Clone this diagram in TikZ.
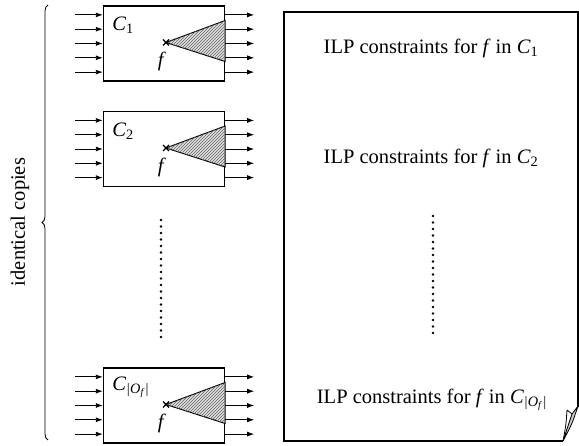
\documentclass[tikz,border=0pt]{standalone}
\usepackage{fontspec}
\setmainfont{Liberation Serif}
\usetikzlibrary{arrows.meta,patterns,decorations.pathreplacing,positioning}
\newcommand{\cc}[1]{\textit{C}\textsubscript{#1}}
\begin{document}
\begin{tikzpicture}[x=1pt,y=-1pt,
    every node/.style={font=\fontsize{20.5}{23}\selectfont},
    copybox/.style={draw,line width=1.4pt,minimum width=121pt,minimum height=75pt,inner sep=0pt},
    wire/.style={-{Latex[length=7pt,width=5pt]},line width=0.9pt}]
    \useasboundingbox (0,0) rectangle (579,446);
    % the copies of the circuit
    \foreach \n/\y/\s in {1/43.5/1, 2/149/2, 3/405.5/{\textit{|O}\textsubscript{\textit{f}}\textit{|}}} {
        \node[copybox] (copy\n) at (164,\y) {};
        \foreach \k in {-2,...,2} {
            \draw[wire] ([xshift=-28pt,yshift=\k*14.3pt]copy\n.west) -- ([yshift=\k*14.3pt]copy\n.west);
            \draw[wire] ([yshift=\k*14.3pt]copy\n.east) -- ([xshift=29pt,yshift=\k*14.3pt]copy\n.east);
        }
        \coordinate (tip\n) at ([xshift=2pt,yshift=1pt]copy\n.center);
        \filldraw[fill=gray!25,line width=1pt,postaction={pattern=north east lines,pattern color=gray!80!black}]
            (tip\n) -- ([yshift=23pt]copy\n.east) -- ([yshift=-18pt]copy\n.east) -- cycle;
        \draw[line width=1.3pt] ([shift={(-3pt,-3pt)}]tip\n) -- ([shift={(3pt,3pt)}]tip\n)
            ([shift={(-3pt,3pt)}]tip\n) -- ([shift={(3pt,-3pt)}]tip\n);
        \node (f\n) at ([xshift=-4pt,yshift=-19pt]tip\n) {\textit{f}};
        \node[anchor=west] (lab\n) at ([xshift=6pt,yshift=-20pt]copy\n.north west) {\cc{\s}};
    }
    \foreach \i in {0,...,18} \fill (161,220+\i*6.5) circle (1.3pt);
    % brace
    \draw[line width=0.8pt,decorate,decoration={brace,amplitude=6pt}] (48,440) -- (48,5);
    \node[rotate=90] (copies) at (20,222) {identical copies};
    % ILP page
    \draw[line width=1.2pt] (578,407) -- (578,12) -- (284,12) -- (284,441) -- (563,441);
    \filldraw[fill=gray!40,line width=0.8pt] (572,414) -- (578,406) .. controls (572,424) .. (563,441) -- cycle;
    \draw[line width=0.8pt] (567,410) -- (572,414) (567,410) .. controls (566,425) .. (563,441);
    \node (con1) at (431,48) {ILP constraints for \textit{f} in \cc{1}};
    \node (con2) at (431,158) {ILP constraints for \textit{f} in \cc{2}};
    \node (con3) at (432,400) {ILP constraints for \textit{f} in \cc{\textit{|O}\textsubscript{\textit{f}}\textit{|}}};
    \foreach \i in {0,...,18} \fill (433,216+\i*6.5) circle (1.3pt);
\end{tikzpicture}
\end{document}
